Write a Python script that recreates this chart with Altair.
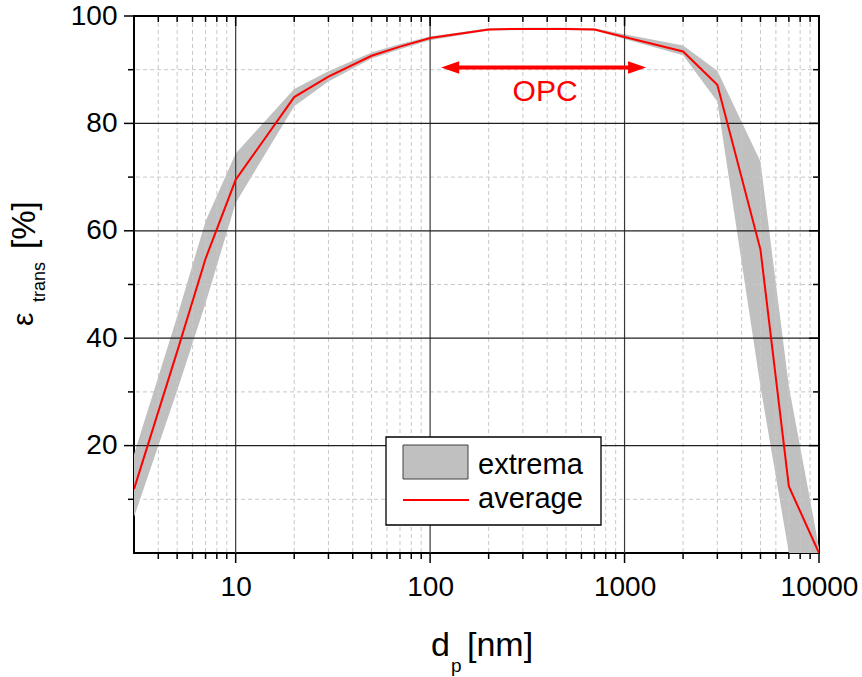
import altair as alt
import pandas as pd

# ---------------- data ----------------
d_nm = [3, 5, 7, 10, 20, 30, 50, 70, 100, 200, 300, 500, 700, 1000, 2000, 3000, 5000, 7000, 10000]
average = [11.9, 37.5, 54.8, 69.5, 84.9, 88.7, 92.6, 94.3, 95.9, 97.5, 97.6, 97.6, 97.5, 96.1, 93.4, 87.2, 56.5, 12.4, 0.0]
upper = [18.4, 44.0, 61.8, 74.4, 86.4, 89.7, 93.2, 94.8, 96.2, 97.7, 97.8, 97.8, 97.7, 96.6, 94.5, 89.8, 72.9, 31.0, 1.0]
lower = [6.7, 30.2, 46.5, 65.2, 83.2, 87.8, 92.1, 93.8, 95.5, 97.3, 97.4, 97.4, 97.3, 95.7, 92.7, 84.1, 31.0, 0.0, 0.0]

x_major = [10, 100, 1000, 10000]
x_minor = [4, 5, 6, 7, 8, 9, 20, 30, 40, 50, 60, 70, 80, 90,
           200, 300, 400, 500, 600, 700, 800, 900,
           2000, 3000, 4000, 5000, 6000, 7000, 8000, 9000]
y_major = [20, 40, 60, 80, 100]
y_minor = [10, 30, 50, 70, 90]

opc_arrow = [130, 1170]      # arrow shaft ends (nm)
opc_tips = [114, 1290]       # arrow tips (nm)
opc_level = 90.4
opc_label = ["OPC"]
opc_label_pos = [390, 85.8]

legend_labels = ["extrema", "average"]

FONT = "Liberation Sans"
W, H = 685, 537

df = pd.DataFrame({"d": d_nm, "avg": average, "hi": upper, "lo": lower})

xs = alt.Scale(type="log", domain=[3, 10000], nice=False)
ys = alt.Scale(domain=[0, 100], nice=False)

XAX = alt.Axis(values=x_major, format="d", title=None, ticks=False, tickSize=0, domain=False, grid=False,
               labelFont=FONT, labelFontSize=28, labelColor="black", labelPadding=20,
               labelFlush=False, labelOverlap=False)
YAX = alt.Axis(values=y_major, title=None, ticks=False, tickSize=0, domain=False, grid=False,
               labelFont=FONT, labelFontSize=28, labelColor="black", labelPadding=17,
               labelOverlap=False)


def X(f):
    return alt.X(f, scale=xs, axis=XAX)


def Y(f):
    return alt.Y(f, scale=ys, axis=YAX)


def vals(v):
    return pd.DataFrame({"v": v})


# ---------------- grid ----------------
grid_xmin = alt.Chart(vals(x_minor)).mark_rule(color="#c8c8c8", strokeWidth=1, strokeDash=[4, 3]).encode(x=X("v:Q"))
grid_ymin = alt.Chart(vals(y_minor)).mark_rule(color="#c8c8c8", strokeWidth=1, strokeDash=[4, 3]).encode(y=Y("v:Q"))
grid_xmaj = alt.Chart(vals(x_major[:-1])).mark_rule(color="#3a3a3a", strokeWidth=1.2).encode(x=X("v:Q"))
grid_ymaj = alt.Chart(vals(y_major[:-1])).mark_rule(color="#202020", strokeWidth=1.2).encode(y=Y("v:Q"))

# ---------------- data marks ----------------
band = alt.Chart(df).mark_area(color="#c0c0c0", opacity=1, clip=True).encode(
    x=X("d:Q"), y=Y("lo:Q"), y2="hi:Q")
line = alt.Chart(df).mark_line(color="#ff0000", strokeWidth=2, clip=True).encode(
    x=X("d:Q"), y=Y("avg:Q"))

# ---------------- ticks ----------------
TK = dict(color="black", strokeWidth=1.5)
MAJ, MIN = 10, 6
ticks = [
    alt.Chart(vals(x_major)).mark_rule(**TK).encode(x=X("v:Q"), y=alt.value(H), y2=alt.value(H + MAJ)),
    alt.Chart(vals(x_minor)).mark_rule(**TK).encode(x=X("v:Q"), y=alt.value(H), y2=alt.value(H + MIN)),
    alt.Chart(vals(x_major)).mark_rule(**TK).encode(x=X("v:Q"), y=alt.value(0), y2=alt.value(MAJ)),
    alt.Chart(vals(x_minor)).mark_rule(**TK).encode(x=X("v:Q"), y=alt.value(0), y2=alt.value(MIN)),
    alt.Chart(vals(y_major)).mark_rule(**TK).encode(y=Y("v:Q"), x=alt.value(0), x2=alt.value(-MAJ)),
    alt.Chart(vals(y_minor)).mark_rule(**TK).encode(y=Y("v:Q"), x=alt.value(0), x2=alt.value(-MIN)),
    alt.Chart(vals(y_major)).mark_rule(**TK).encode(y=Y("v:Q"), x=alt.value(W), x2=alt.value(W - MAJ)),
    alt.Chart(vals(y_minor)).mark_rule(**TK).encode(y=Y("v:Q"), x=alt.value(W), x2=alt.value(W - MIN)),
]

# ---------------- OPC annotation ----------------
arrow_df = pd.DataFrame({"a": [opc_arrow[0]], "b": [opc_arrow[1]], "y": [opc_level]})
shaft = alt.Chart(arrow_df).mark_rule(color="#ff0000", strokeWidth=4).encode(
    x=X("a:Q"), x2="b:Q", y=Y("y:Q"))
tips_df = pd.DataFrame({"x": opc_tips, "y": [opc_level] * 2,
                        "shape": ["M0,0L2,-0.7L2,0.7Z", "M0,0L-2,-0.7L-2,0.7Z"]})
heads = alt.Chart(tips_df).mark_point(filled=True, color="#ff0000", opacity=1, size=324, strokeWidth=0).encode(
    x=X("x:Q"), y=Y("y:Q"), shape=alt.Shape("shape:N", scale=None))
opc_df = pd.DataFrame({"t": opc_label, "x": [opc_label_pos[0]], "y": [opc_label_pos[1]]})
opc_text = alt.Chart(opc_df).mark_text(color="#ff0000", font=FONT, fontSize=30, align="center", baseline="middle").encode(
    x=X("x:Q"), y=Y("y:Q"), text="t:N")

# ---------------- legend ----------------
one = pd.DataFrame({"k": [0]})
leg_box = alt.Chart(one).mark_rect(fill="white", stroke="black", strokeWidth=1.3).encode(
    x=alt.value(252), x2=alt.value(467), y=alt.value(421), y2=alt.value(509))
leg_sw = alt.Chart(one).mark_rect(fill="#c0c0c0", stroke="#404040", strokeWidth=1).encode(
    x=alt.value(269), x2=alt.value(334), y=alt.value(429), y2=alt.value(463))
leg_ln = alt.Chart(one).mark_rule(color="#ff0000", strokeWidth=2).encode(
    x=alt.value(269), x2=alt.value(335), y=alt.value(484))
leg_t1 = alt.Chart(pd.DataFrame({"t": [legend_labels[0]]})).mark_text(
    font=FONT, fontSize=29, color="black", align="left", baseline="alphabetic").encode(
    x=alt.value(344), y=alt.value(458), text="t:N")
leg_t2 = alt.Chart(pd.DataFrame({"t": [legend_labels[1]]})).mark_text(
    font=FONT, fontSize=29, color="black", align="left", baseline="alphabetic").encode(
    x=alt.value(344), y=alt.value(492), text="t:N")


# ---------------- axis titles (with subscripts) ----------------
def txt(s, x, y, size, angle=0):
    m = alt.Chart(pd.DataFrame({"t": [s]})).mark_text(
        font=FONT, fontSize=size, color="black", align="left", baseline="alphabetic", angle=angle)
    return m.encode(x=alt.value(x), y=alt.value(y), text="t:N")


xt = [txt("d", 297, 640, 34), txt("p", 317, 656, 19), txt("[nm]", 333, 640, 34)]
yt = [txt("ε", -101, 310, 30, 270), txt("trans", -89, 286, 18, 270), txt("[%]", -99, 233, 33, 270)]

chart = alt.layer(
    band, grid_xmin, grid_ymin, grid_xmaj, grid_ymaj, line, *ticks,
    shaft, heads, opc_text,
    leg_box, leg_sw, leg_ln, leg_t1, leg_t2,
    *xt, *yt,
).properties(
    width=W, height=H,
    autosize=alt.AutoSizeParams(type="none"),
    padding={"left": 134, "top": 16, "right": 43, "bottom": 124},
).configure_view(stroke="black", strokeWidth=2)

chart.save("out.html", embed_options={"renderer": "svg", "actions": False})
